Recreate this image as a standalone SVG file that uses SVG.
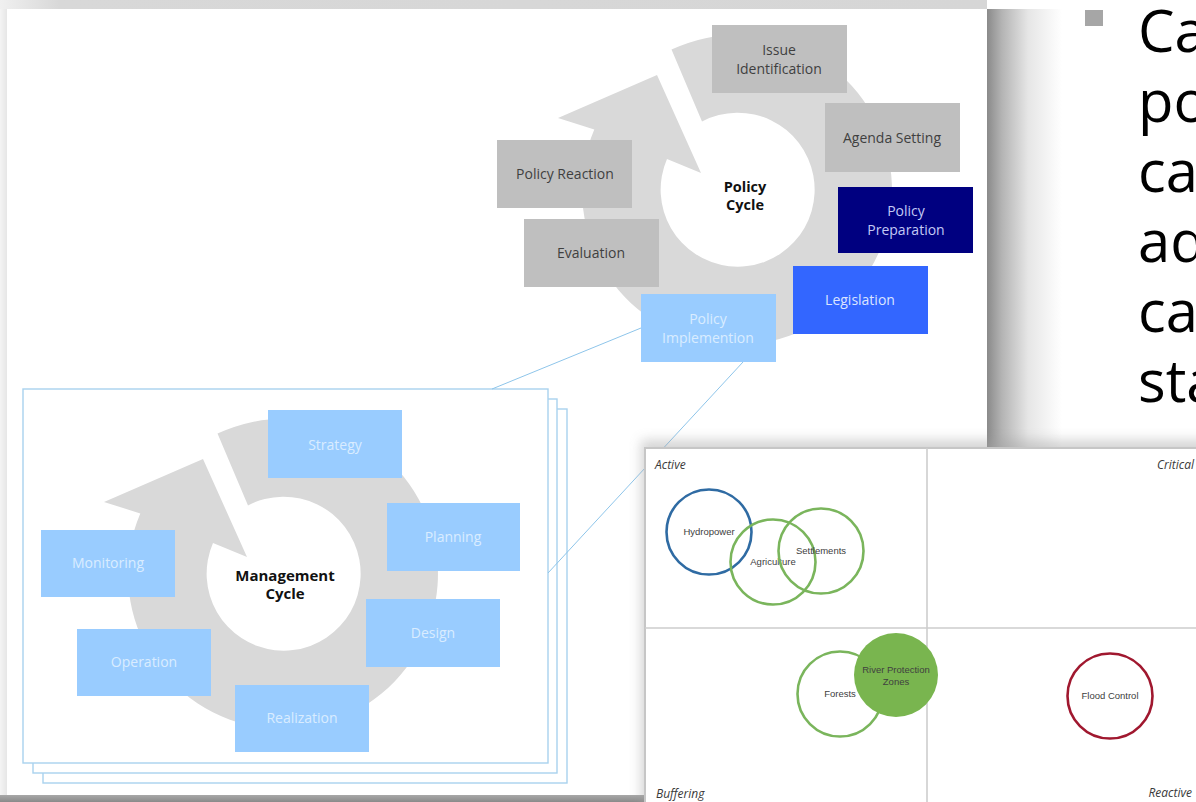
<svg xmlns="http://www.w3.org/2000/svg" xmlns:xlink="http://www.w3.org/1999/xlink" width="1196" height="802" viewBox="0 0 1196 802">
<defs>
<style>
.box text{font-family:"Open Sans","Noto Sans",sans-serif;font-size:14px;text-anchor:middle}
.gray rect{fill:#bfbfbf}.gray text{fill:#3f3f3f}
.lb rect{fill:#99ccff}.lb text{fill:#d9ecff}
.ctr{font-family:"Open Sans","Noto Sans",sans-serif;font-weight:bold;font-size:14.5px;text-anchor:middle;fill:#111}
.frame{fill:#fff;stroke:#a9d2ee;stroke-width:1.4}
.conn line{stroke:#8ec5ea;stroke-width:1}
.q{font-family:"Open Sans","Noto Sans",sans-serif;font-style:italic;font-size:12px;fill:#3a3a3a}
.cl{font-family:"Liberation Sans",Arial,sans-serif;font-size:9.5px;fill:#404040;text-anchor:middle}
.grn{fill:none;stroke:#7ab55c;stroke-width:2.6}
.big{font-family:"Open Sans","Noto Sans",sans-serif;font-size:58px;fill:#000}
</style>
<path id="ring" fill="#d9d9d9" d="M -65.5 -140.5 A 155 155 0 1 1 -142.7 -60.6 L -179 -72 L -80 -115 L -36 -17 L -70 -31 A 77 77 0 1 0 -35 -68.6 Z"/>
<linearGradient id="rs" x1="0" y1="0" x2="1" y2="0">
<stop offset="0" stop-color="#8a8a8a"/><stop offset="0.2" stop-color="#b4b4b4"/><stop offset="0.55" stop-color="#e6e6e6"/><stop offset="1" stop-color="#ffffff"/>
</linearGradient>
<linearGradient id="ts" x1="0" y1="0" x2="1" y2="0">
<stop offset="0" stop-color="#f0f0f0"/><stop offset="0.06" stop-color="#d8d8d8"/><stop offset="1" stop-color="#d6d6d6"/>
</linearGradient>
<linearGradient id="ls" x1="0" y1="0" x2="1" y2="0">
<stop offset="0" stop-color="#f4f4f4"/><stop offset="1" stop-color="#e6e6e6"/>
</linearGradient>
<linearGradient id="bs" x1="0" y1="0" x2="0" y2="1">
<stop offset="0" stop-color="#a8a8a8"/><stop offset="1" stop-color="#8a8a8a"/>
</linearGradient>
<filter id="blur" x="-10%" y="-10%" width="120%" height="120%"><feGaussianBlur stdDeviation="6"/></filter>
</defs>
<rect x="0" y="0" width="1196" height="802" fill="#fff"/>
<g id="slide-shadows">
<rect x="0" y="0" width="987" height="9" fill="url(#ts)"/>
<rect x="0" y="9" width="7" height="793" fill="url(#ls)"/>
<rect x="987" y="9" width="75" height="440" fill="url(#rs)"/>
<rect x="0" y="795" width="645" height="7" fill="url(#bs)"/>
</g>
<use href="#ring" xlink:href="#ring" x="737" y="190"/>
<g id="frames">
<rect class="frame" x="43" y="409" width="524" height="374"/>
<rect class="frame" x="33" y="399" width="524" height="374"/>
<rect class="frame" x="23" y="389" width="525" height="374"/>
</g>
<use href="#ring" xlink:href="#ring" x="283" y="574"/>
<g id="policy-center"><text class="ctr" x="745" y="192">Policy</text><text class="ctr" x="745" y="210">Cycle</text></g>
<g id="issue-identification" class="box gray"><rect x="712" y="25" width="135" height="68"/><text x="779" y="55">Issue</text><text x="779" y="74">Identification</text></g>
<g id="agenda-setting" class="box gray"><rect x="825" y="103" width="135" height="69"/><text x="892" y="143">Agenda Setting</text></g>
<g id="policy-preparation" class="box"><rect x="838" y="187" width="135" height="66" fill="#000080"/><text x="906" y="216" fill="#c3c9f5">Policy</text><text x="906" y="235" fill="#c3c9f5">Preparation</text></g>
<g id="legislation" class="box"><rect x="793" y="266" width="135" height="68" fill="#3366ff"/><text x="860" y="305" fill="#dbe4ff">Legislation</text></g>
<g id="policy-implementation" class="box lb"><rect x="641" y="294" width="135" height="68"/><text x="708" y="324">Policy</text><text x="708" y="343">Implemention</text></g>
<g id="evaluation" class="box gray"><rect x="524" y="219" width="135" height="68"/><text x="591" y="258">Evaluation</text></g>
<g id="policy-reaction" class="box gray"><rect x="497" y="140" width="135" height="68"/><text x="565" y="179">Policy Reaction</text></g>
<g id="management-center"><text class="ctr" x="285" y="581" style="font-size:15px">Management</text><text class="ctr" x="285" y="599" style="font-size:15px">Cycle</text></g>
<g id="strategy" class="box lb"><rect x="268" y="410" width="134" height="68"/><text x="335" y="450">Strategy</text></g>
<g id="planning" class="box lb"><rect x="387" y="503" width="133" height="68"/><text x="453" y="542">Planning</text></g>
<g id="design" class="box lb"><rect x="366" y="599" width="134" height="68"/><text x="433" y="638">Design</text></g>
<g id="realization" class="box lb"><rect x="235" y="685" width="134" height="67"/><text x="302" y="723">Realization</text></g>
<g id="operation" class="box lb"><rect x="77" y="629" width="134" height="67"/><text x="144" y="667">Operation</text></g>
<g id="monitoring" class="box lb"><rect x="41" y="530" width="134" height="67"/><text x="108" y="568">Monitoring</text></g>
<g id="connectors" class="conn">
<line x1="641" y1="328" x2="492" y2="389"/>
<line x1="743" y1="362" x2="548" y2="573"/>
</g>
<g id="chart">
<rect x="641" y="440" width="600" height="400" fill="#a0a0a0" opacity="0.45" filter="url(#blur)"/>
<rect x="645" y="448" width="560" height="360" fill="#fff" stroke="#c6c6c6" stroke-width="2"/>
<line x1="927" y1="448" x2="927" y2="802" stroke="#cdcdcd" stroke-width="1.6"/>
<line x1="645" y1="628" x2="1196" y2="628" stroke="#cdcdcd" stroke-width="1.6"/>
<text class="q" x="655" y="469">Active</text>
<text class="q" x="1194" y="469" text-anchor="end">Critical</text>
<text class="q" x="656" y="798">Buffering</text>
<text class="q" x="1192" y="797" text-anchor="end">Reactive</text>
<g id="hydropower"><circle cx="709" cy="532" r="42.5" fill="none" stroke="#2f6ba3" stroke-width="2.6"/><text class="cl" x="709" y="535">Hydropower</text></g>
<g id="agriculture"><circle class="grn" cx="773" cy="562" r="42.5"/><text class="cl" x="773" y="565">Agriculture</text></g>
<g id="settlements"><circle class="grn" cx="821" cy="551" r="42.5"/><text class="cl" x="821" y="554">Settlements</text></g>
<g id="forests"><circle class="grn" cx="840" cy="694" r="42.5"/><text class="cl" x="840" y="697">Forests</text></g>
<g id="river-protection-zones"><circle cx="896" cy="675" r="42" fill="#79b54f"/><text class="cl" x="896" y="673" fill="#2a3a20">River Protection</text><text class="cl" x="896" y="685" fill="#2a3a20">Zones</text></g>
<g id="flood-control"><circle cx="1110" cy="696" r="42.5" fill="none" stroke="#a0182f" stroke-width="2.6"/><text class="cl" x="1110" y="699">Flood Control</text></g>
</g>
<g id="bullet-text">
<rect x="1085" y="10" width="18" height="16" fill="#a6a6a6"/>
<text class="big"><tspan x="1138" y="52">Ca</tspan><tspan x="1138" y="122">po</tspan><tspan x="1138" y="192">ca</tspan><tspan x="1138" y="262">ad</tspan><tspan x="1138" y="332">ca</tspan><tspan x="1138" y="402">sta</tspan></text>
</g>
</svg>
